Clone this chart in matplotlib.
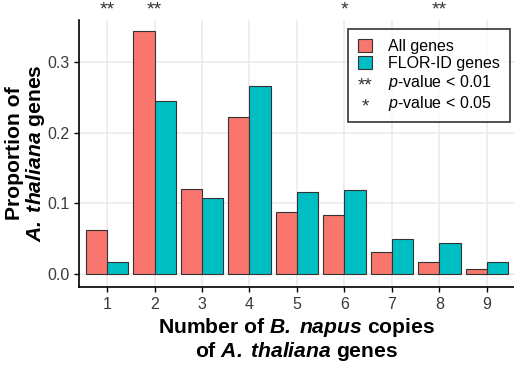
import matplotlib
matplotlib.use('Agg')
import matplotlib.pyplot as plt
import matplotlib.transforms as mtransforms
import numpy as np
from matplotlib.patches import Patch
from matplotlib.text import Text
from matplotlib.legend_handler import HandlerBase

plt.rcParams['font.family'] = 'Liberation Sans'
plt.rcParams['mathtext.fontset'] = 'custom'
plt.rcParams['mathtext.rm'] = 'Liberation Sans'
plt.rcParams['mathtext.it'] = 'Liberation Sans:italic'
plt.rcParams['mathtext.bf'] = 'Liberation Sans:bold'
plt.rcParams['mathtext.bfit'] = 'Liberation Sans:italic:bold'

copies = [1, 2, 3, 4, 5, 6, 7, 8, 9]
all_genes = [0.063, 0.344, 0.120, 0.222, 0.088, 0.084, 0.031, 0.018, 0.0075]
flor_genes = [0.018, 0.244, 0.107, 0.266, 0.116, 0.119, 0.050, 0.044, 0.018]
signif = ['**', '**', '', '', '', '*', '', '**', '']

red = '#F8766D'
teal = '#00BFC4'

fig = plt.figure(figsize=(5.14, 3.66), dpi=100)
ax = fig.add_axes([0.1537, 0.2158, 0.8463, 0.7296])

x = np.array(copies)
w = 0.45
ax.bar(x - w/2, all_genes, width=w, color=red, edgecolor='#333333', linewidth=0.8, zorder=3)
ax.bar(x + w/2, flor_genes, width=w, color=teal, edgecolor='#333333', linewidth=0.8, zorder=3)

ax.set_xlim(0.41, 9.57)
ax.set_ylim(-0.018, 0.359)
ax.set_xticks(copies)
ax.set_yticks([0.0, 0.1, 0.2, 0.3])
ax.set_yticklabels(['0.0', '0.1', '0.2', '0.3'])
ax.grid(True, color='#ebebeb', linewidth=1.2, zorder=0)
ax.set_axisbelow(True)

for s in ['top', 'right']:
    ax.spines[s].set_visible(False)
for s in ['left', 'bottom']:
    ax.spines[s].set_linewidth(1.2)
ax.tick_params(axis='both', length=3.5, width=1.0, labelsize=11.5, labelcolor='#3a3a3a')

# significance stars above the bars
trans = mtransforms.blended_transform_factory(ax.transData, fig.transFigure)
for xi, s in zip(copies, signif):
    if s:
        ax.text(xi, 0.997, s, transform=trans, ha='center', va='top',
                fontsize=14, color='#333333', clip_on=False)

ax.set_xlabel('Number of $\\mathbfit{B.\\;napus}$ copies\nof $\\mathbfit{A.\\;thaliana}$ genes',
              fontsize=15.2, fontweight='bold', labelpad=3, linespacing=1.08)
ax.set_ylabel('Proportion of\n$\\mathbfit{A.\\;thaliana}$ genes',
              fontsize=15.2, fontweight='bold', labelpad=0, linespacing=1.0)


class TextHandler(HandlerBase):
    def create_artists(self, legend, orig_handle, xdescent, ydescent, width, height, fontsize, trans):
        t = Text(x=width/2 - xdescent, y=height/2 - ydescent - 0.3*fontsize,
                 text=orig_handle.get_text(), ha='center', va='center',
                 fontsize=fontsize * 1.2, transform=trans, color='#333333')
        return [t]


handles = [Patch(facecolor=red, edgecolor='#333333', linewidth=0.8),
           Patch(facecolor=teal, edgecolor='#333333', linewidth=0.8),
           Text(text='**'), Text(text='*')]
labels = ['All genes', 'FLOR-ID genes', '$\\mathit{p}$-value < 0.01', '$\\mathit{p}$-value < 0.05']
leg = ax.legend(handles, labels, loc='upper right', bbox_to_anchor=(0.99, 0.966),
                borderaxespad=0, fontsize=11.5, frameon=True, fancybox=False, edgecolor='black',
                handlelength=0.9, handleheight=0.9, handletextpad=1.0, labelspacing=0.12,
                borderpad=0.6, handler_map={Text: TextHandler()})
leg.get_frame().set_linewidth(1.2)

fig.savefig('out.png', dpi=100)
